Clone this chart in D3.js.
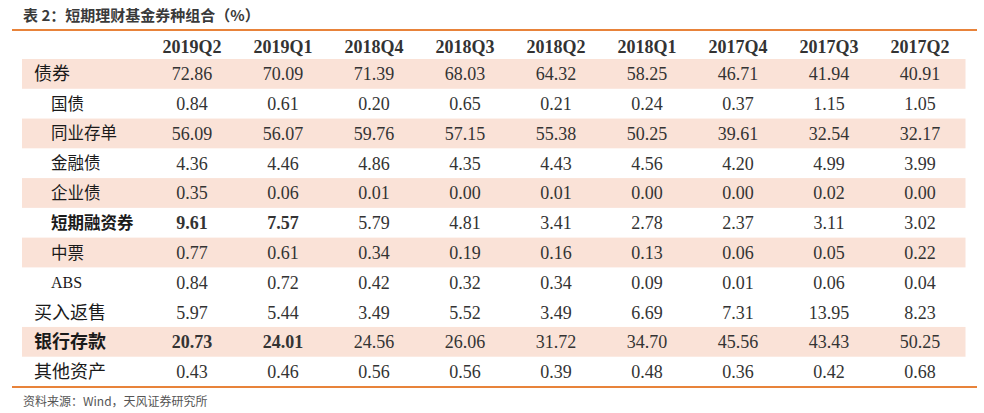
<!DOCTYPE html>
<html><head><meta charset="utf-8">
<script src="https://cdn.jsdelivr.net/npm/d3@7"></script>
<style>html,body{margin:0;padding:0;background:#fff;}svg{display:block;}</style>
</head><body>
<svg id="c" width="984" height="413"></svg>
<script>
const title = "表 2：短期理财基金券种组合（%）";
const source = "资料来源：Wind，天风证券研究所";
const periods = ["2019Q2","2019Q1","2018Q4","2018Q3","2018Q2","2018Q1","2017Q4","2017Q3","2017Q2"];
const rowLabels = ["债券","国债","同业存单","金融债","企业债","短期融资券","中票","ABS","买入返售","银行存款","其他资产"];
const rowLevel = [0,1,1,1,1,1,1,1,0,0,0];          // 0 = top-level, 1 = sub item
const shadedRows = ["债券","同业存单","企业债","中票","银行存款"];
const boldLabels = ["短期融资券","银行存款"];
const bonds      = ["72.86","70.09","71.39","68.03","64.32","58.25","46.71","41.94","40.91"];
const govBonds   = ["0.84","0.61","0.20","0.65","0.21","0.24","0.37","1.15","1.05"];
const ncd        = ["56.09","56.07","59.76","57.15","55.38","50.25","39.61","32.54","32.17"];
const finBonds   = ["4.36","4.46","4.86","4.35","4.43","4.56","4.20","4.99","3.99"];
const corpBonds  = ["0.35","0.06","0.01","0.00","0.01","0.00","0.00","0.02","0.00"];
const shortCP    = ["9.61","7.57","5.79","4.81","3.41","2.78","2.37","3.11","3.02"];
const mtn        = ["0.77","0.61","0.34","0.19","0.16","0.13","0.06","0.05","0.22"];
const abs        = ["0.84","0.72","0.42","0.32","0.34","0.09","0.01","0.06","0.04"];
const repo       = ["5.97","5.44","3.49","5.52","3.49","6.69","7.31","13.95","8.23"];
const deposits   = ["20.73","24.01","24.56","26.06","31.72","34.70","45.56","43.43","50.25"];
const otherAssets= ["0.43","0.46","0.56","0.56","0.39","0.48","0.36","0.42","0.68"];
// cells shown in bold: [rowLabel, period]
const boldCells = [["短期融资券","2019Q2"],["短期融资券","2019Q1"],["银行存款","2019Q2"],["银行存款","2019Q1"]];

const rowValues = [bonds,govBonds,ncd,finBonds,corpBonds,shortCP,mtn,abs,repo,deposits,otherAssets];
const rows = rowLabels.map((l,i)=>({label:l, level:rowLevel[i], values:rowValues[i]}));

const svg = d3.select("#c");
const orange = "#E8833A", shade = "#FAE2D7";
const serif = "'Liberation Serif','Times New Roman',serif";
const cjk = "'Noto Sans CJK SC','Noto Sans',sans-serif";

const x = d3.scaleBand().domain(periods).range([146.5, 965.5]);
const y = d3.scaleBand().domain(rowLabels).range([59, 386.5]);

// title
svg.append("text").attr("x",23).attr("y",21).attr("font-family",cjk).attr("font-weight","bold")
  .attr("font-size",15).attr("fill","#3a3a3a").text(title);
// top rule
svg.append("line").attr("x1",12).attr("x2",977).attr("y1",30).attr("y2",30)
  .attr("stroke",orange).attr("stroke-width",2.2);

// shading
svg.selectAll("rect.sh").data(rows.filter(r=>shadedRows.includes(r.label))).join("rect")
  .attr("x",22).attr("width",x.range()[1]-22)
  .attr("y",d=>y(d.label)).attr("height",y.bandwidth()).attr("fill",shade);

// header
svg.selectAll("text.hd").data(periods).join("text")
  .attr("x",d=>x(d)+x.bandwidth()/2).attr("y",53).attr("text-anchor","middle")
  .attr("font-family",serif).attr("font-weight","bold").attr("font-size",18).attr("fill","#333")
  .text(d=>d);

// row labels
svg.selectAll("text.lb").data(rows).join("text")
  .attr("x",d=>d.label==="ABS"?51:(d.level===0?34:51))
  .attr("y",d=>y(d.label)+y.bandwidth()/2+ (d.level===0?6.5:6))
  .attr("font-family",d=>d.label==="ABS"?serif:cjk)
  .attr("font-weight",d=>boldLabels.includes(d.label)?"bold":"normal")
  .attr("font-size",d=>d.label==="ABS"?16:(d.level===0?18:16.5))
  .attr("fill","#1a1a1a").text(d=>d.label);

// values
const isBold=(r,p)=>boldCells.some(b=>b[0]===r&&b[1]===p);
rows.forEach(r=>{
  svg.append("g").selectAll("text").data(r.values).join("text")
    .attr("x",(d,i)=>x(periods[i])+x.bandwidth()/2)
    .attr("y",y(r.label)+y.bandwidth()/2+6.5)
    .attr("text-anchor","middle").attr("font-family",serif).attr("font-size",18)
    .attr("font-weight",(d,i)=>isBold(r.label,periods[i])?"bold":"normal")
    .attr("fill","#333").text(d=>d);
});

// bottom rule
svg.append("line").attr("x1",12).attr("x2",977).attr("y1",387).attr("y2",387)
  .attr("stroke",orange).attr("stroke-width",2.2);
// source
svg.append("text").attr("x",23).attr("y",406).attr("font-family",cjk)
  .attr("font-size",12).attr("fill","#555").text(source);
</script>
</body></html>
